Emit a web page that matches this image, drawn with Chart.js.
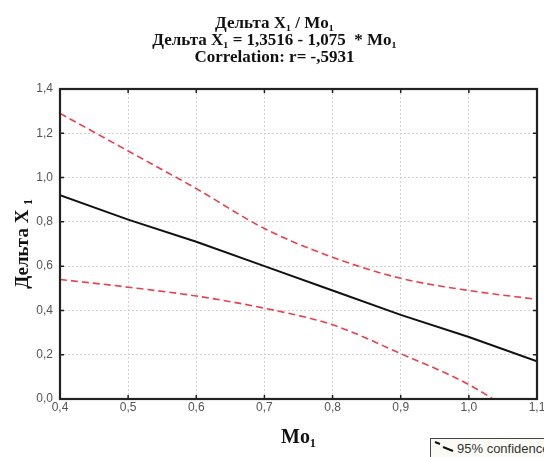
<!DOCTYPE html>
<html>
<head>
<meta charset="utf-8">
<script src="https://cdn.jsdelivr.net/npm/chart.js@4/dist/chart.umd.min.js"></script>
<style>
  html, body { margin: 0; padding: 0; background: #fff; overflow: hidden; }
  #wrap { position: relative; width: 560px; height: 457px; }
  #legendBox {
    position: absolute; left: 430px; top: 438px; width: 140px; height: 30px;
    border: 1px solid #444; background: #fbfbf6;
    font: 13px "Liberation Sans", Arial, sans-serif; color: #333;
  }
  #legendBox svg { position: absolute; left: 0; top: 0; }
  #legendBox span { position: absolute; left: 26px; top: 2px; }
</style>
</head>
<body>
<div id="wrap">
  <canvas id="chart" width="560" height="457"></canvas>
  <div id="legendBox">
    <svg width="26" height="16"><path d="M4 3 L9 5 M12 8 L22 12" stroke="#111" stroke-width="2" fill="none"/></svg>
    <span>95% confidence</span>
  </div>
</div>
<script>
/* ── data ── */
const moValues    = [0.4, 0.5, 0.6, 0.7, 0.8, 0.9, 1.0, 1.1];
const fitValues   = [0.92, 0.81, 0.71, 0.60, 0.49, 0.38, 0.28, 0.17];
const upperValues = [1.29, 1.12, 0.95, 0.77, 0.64, 0.545, 0.49, 0.45];
const lowerValues = [0.54, 0.505, 0.465, 0.41, 0.335, 0.205, 0.065, -0.13];
const xTicks = [0.4, 0.5, 0.6, 0.7, 0.8, 0.9, 1.0, 1.1];
const yTicks = [0.0, 0.2, 0.4, 0.6, 0.8, 1.0, 1.2, 1.4];

const titleLines = [
  'Дельта X\u2081 / Mo\u2081',
  'Дельта X\u2081 = 1,3516 - 1,075  * Mo\u2081',
  'Correlation: r= -,5931',
];

const pts = vals => moValues.map((x, i) => ({ x: x, y: vals[i] }));
const comma = v => Number(v).toFixed(1).replace('.', ',');

/* ── full frame round the plot area, with small inner ticks ── */
const framePlugin = {
  id: 'frame',
  afterDraw(chart) {
    const a = chart.chartArea, ctx = chart.ctx;
    const xs = chart.scales.x, ys = chart.scales.y;
    ctx.save();
    ctx.strokeStyle = '#222';
    ctx.lineWidth = 2.2;
    ctx.strokeRect(a.left, a.top, a.right - a.left, a.bottom - a.top);
    ctx.lineWidth = 1.5;
    ctx.beginPath();
    xTicks.forEach(v => {
      const px = xs.getPixelForValue(v);
      ctx.moveTo(px, a.top); ctx.lineTo(px, a.top + 4);
      ctx.moveTo(px, a.bottom); ctx.lineTo(px, a.bottom - 4);
    });
    yTicks.forEach(v => {
      const py = ys.getPixelForValue(v);
      ctx.moveTo(a.right, py); ctx.lineTo(a.right - 4, py);
      ctx.moveTo(a.left, py); ctx.lineTo(a.left + 4, py);
    });
    ctx.stroke();
    ctx.restore();
  },
};

const tickFont = { family: '"Liberation Sans", Arial, sans-serif', size: 12 };
const serifBold = size => ({ family: '"Liberation Serif", "Times New Roman", serif', size: size, weight: 'bold' });

new Chart(document.getElementById('chart').getContext('2d'), {
  type: 'line',
  data: {
    datasets: [
      {
        label: 'Fit',
        data: pts(fitValues),
        borderColor: '#111',
        borderWidth: 2,
        pointRadius: 0,
        tension: 0,
      },
      {
        label: '95% upper',
        data: pts(upperValues),
        borderColor: '#e8404e',
        borderWidth: 1.6,
        borderDash: [7, 4],
        pointRadius: 0,
        cubicInterpolationMode: 'monotone',
      },
      {
        label: '95% lower',
        data: pts(lowerValues),
        borderColor: '#e8404e',
        borderWidth: 1.6,
        borderDash: [7, 4],
        pointRadius: 0,
        cubicInterpolationMode: 'monotone',
      },
    ],
  },
  options: {
    responsive: false,
    animation: false,
    layout: { padding: { left: 12, right: 23, top: 0, bottom: 0 } },
    plugins: {
      legend: { display: false },
      tooltip: { enabled: false },
      title: {
        display: true,
        text: titleLines,
        color: '#111',
        font: { ...serifBold(17), lineHeight: 1 },
        padding: { top: 15, bottom: 23 },
      },
    },
    scales: {
      x: {
        type: 'linear',
        min: 0.4,
        max: 1.1,
        afterBuildTicks: s => { s.ticks = xTicks.map(v => ({ value: v })); },
        afterFit: s => { s.height = 58; },
        grid: { color: '#d2d2d2', lineWidth: 1, drawTicks: false },
        border: { display: false, dash: [2, 2] },
        ticks: { color: '#555', font: tickFont, padding: 1, callback: comma, maxRotation: 0 },
        title: { display: true, text: 'Mo\u2081', color: '#111', font: serifBold(20), padding: { top: 0, bottom: 7 } },
      },
      y: {
        min: 0,
        max: 1.4,
        afterBuildTicks: s => { s.ticks = yTicks.map(v => ({ value: v })); },
        afterFit: s => { s.width = 48; },
        grid: { color: '#d2d2d2', lineWidth: 1, drawTicks: false },
        border: { display: false, dash: [2, 2] },
        ticks: { color: '#555', font: tickFont, padding: 7, callback: comma },
        title: { display: true, text: 'Дельта X \u2081', color: '#111', font: serifBold(19), padding: { top: 0, bottom: 0 } },
      },
    },
  },
  plugins: [framePlugin],
});
</script>
</body>
</html>
